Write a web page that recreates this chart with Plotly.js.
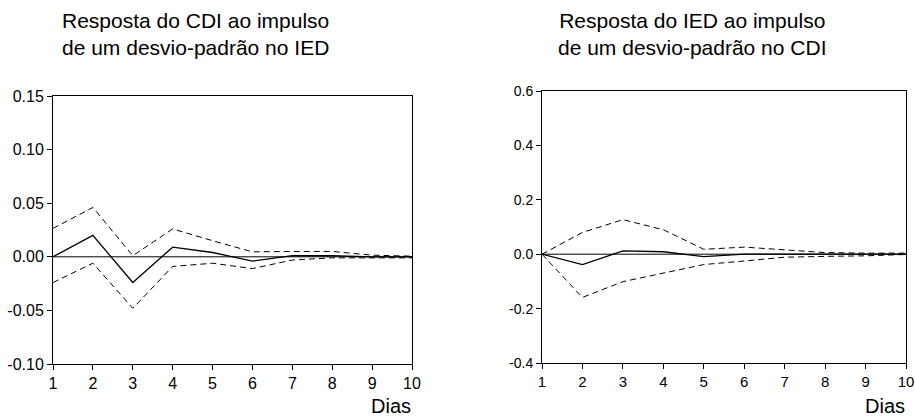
<!DOCTYPE html>
<html><head><meta charset="utf-8">
<script src="https://cdn.plot.ly/plotly-3.0.1.min.js"></script>
<style>html,body{margin:0;padding:0;background:#fff}#c{width:915px;height:417px}</style>
</head><body><div id="c"></div>
<script>
const dias = [1,2,3,4,5,6,7,8,9,10];
// Resposta do CDI ao impulso no IED
const cdiResp  = [0.000, 0.020, -0.024, 0.009, 0.004, -0.004, 0.001, 0.001, 0.000, 0.000];
const cdiUpper = [0.0265, 0.046, 0.001, 0.026, 0.015, 0.0046, 0.005, 0.005, 0.0015, 0.0006];
const cdiLower = [-0.024, -0.006, -0.048, -0.009, -0.006, -0.011, -0.003, -0.001, -0.001, -0.001];
// Resposta do IED ao impulso no CDI
const iedResp  = [0.000, -0.038, 0.012, 0.009, -0.009, 0.000, 0.000, 0.000, 0.000, 0.000];
const iedUpper = [0.000, 0.080, 0.127, 0.090, 0.018, 0.026, 0.016, 0.006, 0.004, 0.004];
const iedLower = [0.000, -0.159, -0.101, -0.070, -0.038, -0.025, -0.011, -0.008, -0.006, -0.001];
const leftTicks = [-0.10, -0.05, 0.00, 0.05, 0.10, 0.15];
const leftTickText = ["-0.10","-0.05","0.00","0.05","0.10","0.15"];
const rightTicks = [-0.4, -0.2, 0.0, 0.2, 0.4, 0.6];
const rightTickText = ["-0.4","-0.2","0.0","0.2","0.4","0.6"];
const titles = ["Resposta do CDI ao impulso<br>de um desvio-padrão no IED",
                "Resposta do IED ao impulso<br>de um desvio-padrão no CDI"];

const solid = {color:'#000', width:1.3};
const dashed = {color:'#000', width:1, dash:'6px,4px'};
const zeroL = {color:'#000', width:1};
function tr(y, line, xa, ya){return {x:dias, y:y, mode:'lines', line:line, xaxis:xa, yaxis:ya, hoverinfo:'skip', showlegend:false};}
const data = [
  tr(dias.map(()=>0), zeroL, 'x','y'),
  tr(cdiUpper, dashed, 'x','y'), tr(cdiLower, dashed, 'x','y'), tr(cdiResp, solid, 'x','y'),
  tr(dias.map(()=>0), zeroL, 'x2','y2'),
  tr(iedUpper, dashed, 'x2','y2'), tr(iedLower, dashed, 'x2','y2'), tr(iedResp, solid, 'x2','y2')
];
const fam = 'Liberation Sans, Arial, sans-serif';
const tickFont = {family:fam, size:16, color:'#000'};
const axBase = {showline:true, mirror:true, linecolor:'#000', linewidth:1, ticks:'outside', ticklen:5, tickcolor:'#000',
  showgrid:false, zeroline:false, tickfont:tickFont, fixedrange:true, ticklabelstandoff:0};
const layout = {
  width:915, height:417, margin:{l:0,r:0,t:0,b:0}, paper_bgcolor:'#fff', plot_bgcolor:'#fff',
  xaxis: Object.assign({}, axBase, {domain:[53/915, 412/915], range:[1,10], tickvals:dias, anchor:'y'}),
  yaxis: Object.assign({}, axBase, {domain:[(417-364)/417, (417-96)/417], range:[-0.10,0.15], tickvals:leftTicks, ticktext:leftTickText, anchor:'x'}),
  xaxis2: Object.assign({}, axBase, {domain:[542/915, 906/915], range:[1,10], tickvals:dias, anchor:'y2', tickfont:Object.assign({},tickFont,{size:15})}),
  yaxis2: Object.assign({}, axBase, {domain:[(417-363)/417, (417-91)/417], range:[-0.4,0.6], tickvals:rightTicks, ticktext:rightTickText, anchor:'x2', tickfont:Object.assign({},tickFont,{size:14})}),
  annotations:[
    {text:titles[0], xref:'paper', yref:'paper', x:195/915, y:1-34/417, yanchor:'middle', xanchor:'center', showarrow:false,
     font:{family:fam, size:21, color:'#000'}},
    {text:titles[1], xref:'paper', yref:'paper', x:692/915, y:1-34/417, yanchor:'middle', xanchor:'center', showarrow:false,
     font:{family:fam, size:21, color:'#000'}},
    {text:'Dias', xref:'paper', yref:'paper', x:413/915, y:1-406/417, xanchor:'right', yanchor:'middle', showarrow:false,
     font:{family:fam, size:20, color:'#000'}},
    {text:'Dias', xref:'paper', yref:'paper', x:907/915, y:1-406/417, xanchor:'right', yanchor:'middle', showarrow:false,
     font:{family:fam, size:20, color:'#000'}}
  ]
};
Plotly.newPlot('c', data, layout, {staticPlot:true, displayModeBar:false});
</script></body></html>
